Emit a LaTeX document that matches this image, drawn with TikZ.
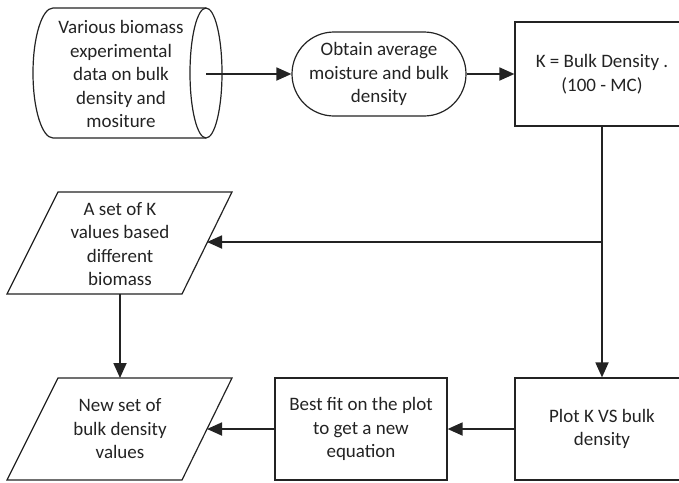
\documentclass[tikz,border=0pt]{standalone}
\usepackage{fontspec}
\setmainfont{Carlito}
\usetikzlibrary{arrows.meta}
\definecolor{ink}{RGB}{35,35,35}
\tikzset{
  label/.style={align=center, text=ink, font=\fontsize{19}{23.5}\selectfont, inner sep=0pt},
  boxline/.style={draw=ink, line width=1.2pt},
  stepbox/.style={boxline, label, minimum width=174pt},
  terminal/.style={boxline, label, rounded corners=42pt, minimum width=174pt, minimum height=84pt},
  conn/.style={draw=ink, line width=1.8pt, -{Triangle[length=15pt,width=13pt]}},
  plain/.style={draw=ink, line width=1.8pt}
}
\begin{document}
\begin{tikzpicture}[x=1pt,y=-1pt]
\useasboundingbox (0,0) rectangle (679,482);
\clip (0,0) rectangle (679,482);

% stored data (horizontal cylinder)
\draw[boxline] (206,8) -- (53,8) arc[start angle=270, end angle=90, x radius=20, y radius=65] -- (206,138);
\draw[boxline] (206,73) ellipse[x radius=16, y radius=65];
\node[label] (src) at (121,74) {Various biomass\\experimental\\data on bulk\\density and\\mositure};
\coordinate (srcout) at (206,74);

% averaging step
\node[terminal] (avg) at (379,74) {Obtain average\\moisture and bulk\\density};

% K definition
\node[stepbox, minimum height=104pt] (kbox) at (602,74) {K = Bulk Density .\\(100 - MC)};

% plot and fit
\node[stepbox, minimum height=102pt] (plot) at (602,429) {Plot K VS bulk\\density};
\node[stepbox, minimum width=172pt, minimum height=102pt] (fit) at (361,429) {Best fit on the plot\\to get a new\\equation};

% data sets (parallelograms)
\draw[boxline] (58,192) -- (232,192) -- (182,294) -- (7,294) -- cycle;
\node[label] (kset) at (120,244) {A set of K\\values based\\different\\biomass};
\coordinate (ksetin) at (207,242);
\coordinate (ksettop) at (120,294);

\draw[boxline] (58,378) -- (232,378) -- (182,480) -- (7,480) -- cycle;
\node[label] (newset) at (120,429) {New set of\\bulk density\\values};
\coordinate (newsetin) at (207,429);
\coordinate (newsettop) at (120,378);

% connectors
\coordinate (junc) at (602,242);
\draw[conn] (srcout) -- (avg.west);
\draw[conn] (avg.east) -- (kbox.west);
\draw[conn] (kbox.south) -- (plot.north);
\draw[conn] (junc) -- (ksetin);
\draw[conn] (ksettop) -- (newsettop);
\draw[conn] (plot.west) -- (fit.east);
\draw[conn] (fit.west) -- (newsetin);
\end{tikzpicture}
\end{document}
